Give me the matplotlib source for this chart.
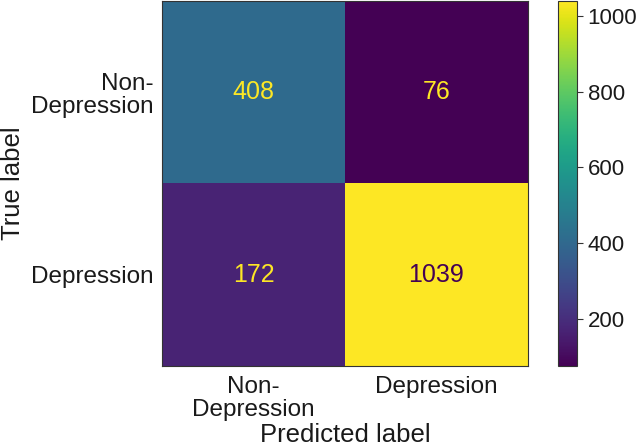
import matplotlib
matplotlib.use("Agg")
import matplotlib.pyplot as plt
import numpy as np

plt.rcParams['font.family'] = ['Liberation Sans', 'DejaVu Sans']

classes = ["Non-\nDepression", "Depression"]
matrix = [[408, 76], [172, 1039]]
cbar_ticks = [200, 400, 600, 800, 1000]

cm = np.array(matrix)
fig = plt.figure(figsize=(6.4, 4.48), dpi=100)
ax = fig.add_axes([0.253, 0.183, 0.572, 0.815])
cax = fig.add_axes([0.872, 0.183, 0.030, 0.815])

cmap = plt.get_cmap('viridis')
im = ax.imshow(cm, cmap=cmap, vmin=cm.min(), vmax=cm.max(), aspect='auto')
thresh = (cm.max() + cm.min()) / 2
for i in range(cm.shape[0]):
    for j in range(cm.shape[1]):
        c = cmap(1.0) if cm[i, j] < thresh else cmap(0.0)
        ax.text(j, i, str(cm[i, j]), ha='center', va='center', color=c, fontsize=18)

fs = 17.5
tc = '#1a1a1a'
ax.set_xticks(range(len(classes)))
ax.set_yticks(range(len(classes)))
ax.set_xticklabels(classes, fontsize=fs, color=tc, linespacing=1.05)
ax.set_yticklabels(classes, fontsize=fs, color=tc, ha='right', linespacing=1.05)
ax.tick_params(axis='y', length=0, pad=6)
ax.tick_params(axis='x', length=0, pad=7)
ax.set_xlabel('Predicted label', fontsize=18.5, color=tc, labelpad=2)
ax.set_ylabel('True label', fontsize=18.5, color=tc, labelpad=4)
for s in ax.spines.values():
    s.set_color('#333333')

cb = fig.colorbar(im, cax=cax)
cb.set_ticks(cbar_ticks)
cb.ax.tick_params(labelsize=16, labelcolor=tc, length=4, color='#333333')
cb.outline.set_edgecolor('#333333')

fig.savefig('out.png', dpi=100)
